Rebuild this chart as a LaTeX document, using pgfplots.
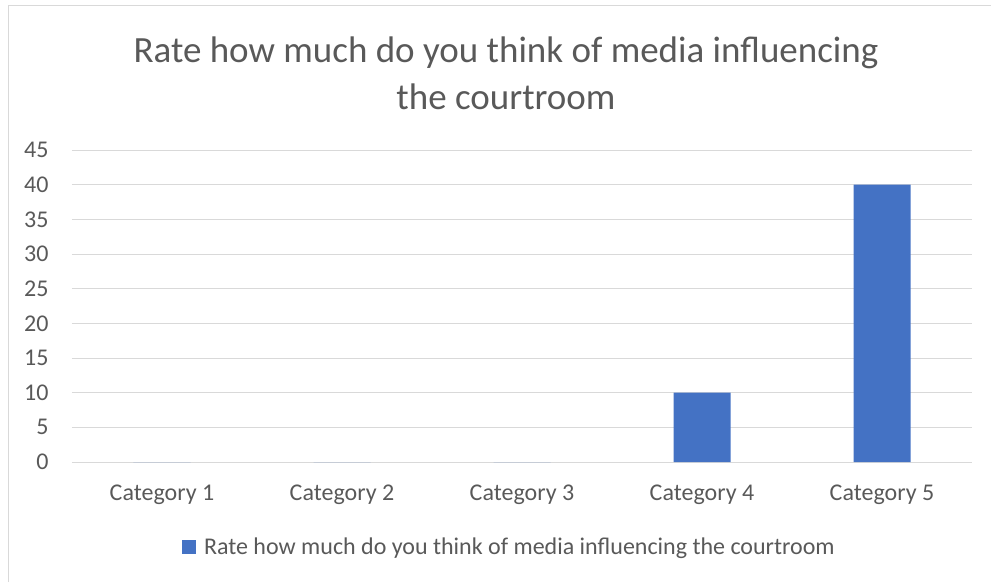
\documentclass[border=0pt]{standalone}
\usepackage{pgfplots}
\pgfplotsset{compat=1.18}
\usepackage{fontspec}
\setmainfont{Carlito}
\definecolor{txt}{HTML}{595959}
\definecolor{grd}{HTML}{D9D9D9}
\definecolor{bar}{HTML}{4472C4}
\begin{document}
\begin{tikzpicture}[x=1pt,y=1pt]
\path[use as bounding box] (0,0) rectangle (991,582);
\draw[grd, line width=1.2pt] (8.5,0) -- (8.5,576.5) -- (991,576.5);
\node[text=txt, font=\fontsize{37}{47}\selectfont, align=center] at (506,508.5) {Rate how much do you think of media influencing\\the courtroom};
\begin{axis}[
  at={(72pt,120pt)}, anchor=south west,
  width=900pt, height=312pt, scale only axis,
  xmin=-0.5, xmax=4.5, ymin=0, ymax=45,
  ytick={0,5,...,45},
  xtick={0,1,2,3,4},
  xticklabels={Category 1,Category 2,Category 3,Category 4,Category 5},
  ybar, bar width=57pt,
  axis line style={draw=none},
  axis x line*=bottom,
  x axis line style={draw=grd, line width=1pt},
  tick style={draw=none},
  ymajorgrids, grid style={grd, line width=1pt},
  /pgf/number format/assume math mode=true,
  ticklabel style={text=txt, font=\fontsize{24}{26}\selectfont},
  yticklabel style={xshift=-20pt},
  xticklabel style={yshift=-15pt},
  legend style={at={(0.486,-0.272)}, anchor=center, draw=none, fill=none,
    font=\fontsize{24}{26}\selectfont, text=txt, legend cell align=left},
  legend image code/.code={\fill[bar] (0pt,-7pt) rectangle (14pt,7pt); \path (20pt,0pt);},
]
\addplot[fill=bar, draw=none] coordinates {(0,0) (1,0) (2,0) (3,10) (4,40)};
\addlegendentry{Rate how much do you think of media influencing the courtroom}
\end{axis}
\end{tikzpicture}
\end{document}
